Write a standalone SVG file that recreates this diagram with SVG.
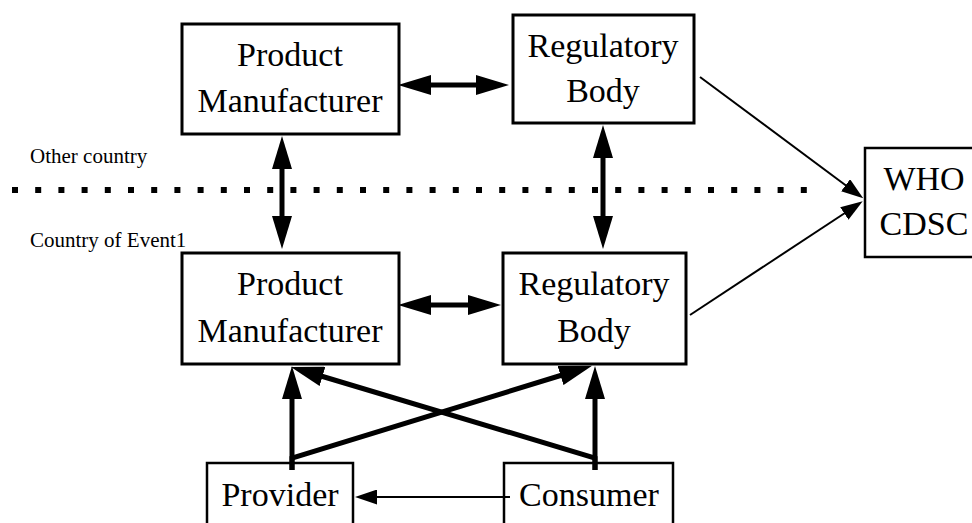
<svg xmlns="http://www.w3.org/2000/svg" width="972" height="523" viewBox="0 0 972 523">
<style>
.box{fill:#fff;stroke:#000;stroke-width:3}
.sbox{fill:#fff;stroke:#000;stroke-width:2.5}
.t{font-size:34px;fill:#000;text-anchor:middle}
.lbl{font-size:21px;fill:#000}
.thick{stroke:#000;stroke-width:5;fill:none}
.thin{stroke:#000;stroke-width:2;fill:none}
.dots{stroke:#000;stroke-width:6;stroke-dasharray:6 17.2;fill:none}
</style>
<defs>
<marker id="big" viewBox="0 0 33 20" refX="12" refY="10" markerWidth="33" markerHeight="20" markerUnits="userSpaceOnUse" orient="auto-start-reverse">
<path d="M0,0 L33,10 L0,20 z" fill="#000"/>
</marker>
<marker id="small" viewBox="0 0 22 15" refX="8" refY="7.5" markerWidth="22" markerHeight="15" markerUnits="userSpaceOnUse" orient="auto-start-reverse">
<path d="M0,0 L22,7.5 L0,15 z" fill="#000"/>
</marker>
</defs>
<g font-family="'Liberation Serif', Tinos, 'Times New Roman', 'DejaVu Serif', serif">
<g id="separator">
<line class="dots" x1="12" y1="190" x2="808" y2="190"/>
<text class="lbl" x="30" y="163">Other country</text>
<text class="lbl" x="30" y="247">Country of Event1</text>
</g>
<g id="pm-other">
<rect class="box" x="182" y="24" width="217" height="110"/>
<text class="t" x="290" y="66">Product</text>
<text class="t" x="290" y="112">Manufacturer</text>
</g>
<g id="rb-other">
<rect class="box" x="513" y="15" width="181" height="108"/>
<text class="t" x="603" y="57">Regulatory</text>
<text class="t" x="603" y="102">Body</text>
</g>
<g id="pm-local">
<rect class="box" x="182" y="253" width="217" height="111"/>
<text class="t" x="290" y="295">Product</text>
<text class="t" x="290" y="342">Manufacturer</text>
</g>
<g id="rb-local">
<rect class="box" x="503" y="253" width="183" height="111"/>
<text class="t" x="594" y="295">Regulatory</text>
<text class="t" x="594" y="342">Body</text>
</g>
<g id="provider">
<rect class="sbox" x="207" y="463" width="146" height="80"/>
<text class="t" x="280" y="506">Provider</text>
</g>
<g id="consumer">
<rect class="sbox" x="504" y="463" width="169" height="80"/>
<text class="t" x="589" y="506">Consumer</text>
</g>
<g id="who">
<rect class="sbox" x="865" y="148" width="130" height="109"/>
<text class="t" x="924" y="190">WHO</text>
<text class="t" x="924" y="235">CDSC</text>
</g>
</g>
<g id="connectors">
<line class="thick" x1="419" y1="85" x2="488" y2="85" marker-start="url(#big)" marker-end="url(#big)"/>
<line class="thick" x1="419" y1="305" x2="480" y2="305" marker-start="url(#big)" marker-end="url(#big)"/>
<line class="thick" x1="282" y1="157" x2="282" y2="228" marker-start="url(#big)" marker-end="url(#big)"/>
<line class="thick" x1="603" y1="146" x2="603" y2="228" marker-start="url(#big)" marker-end="url(#big)"/>
<polyline class="thick" points="292,470 292,458 572,372" marker-end="url(#big)"/>
<line class="thick" x1="292" y1="470" x2="292" y2="387" marker-end="url(#big)"/>
<polyline class="thick" points="595,470 595,458 311,373" marker-end="url(#big)"/>
<line class="thick" x1="595" y1="470" x2="595" y2="387" marker-end="url(#big)"/>
<line class="thin" x1="510" y1="497" x2="369" y2="497" marker-end="url(#small)"/>
<line class="thin" x1="700" y1="77" x2="852" y2="190" marker-end="url(#small)"/>
<line class="thin" x1="690" y1="315" x2="851" y2="209" marker-end="url(#small)"/>
</g>
</svg>
